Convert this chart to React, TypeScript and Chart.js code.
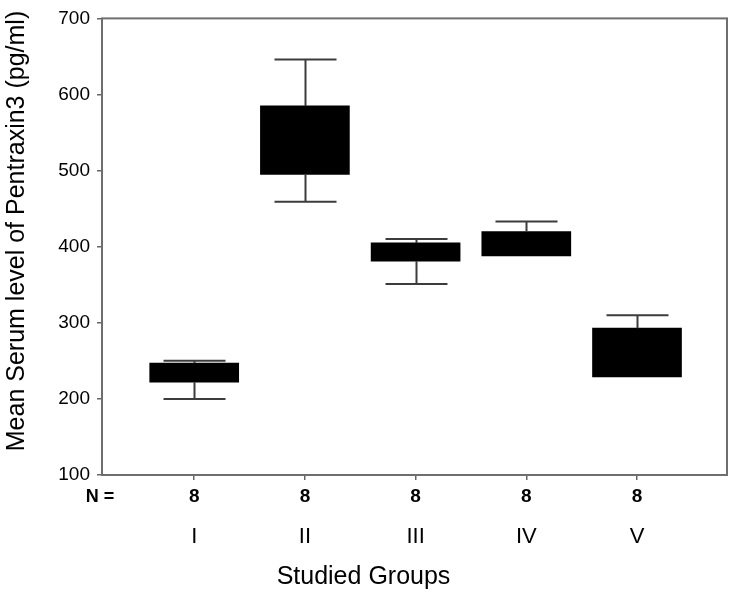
import React, { useEffect, useRef } from 'react';
import { Chart, registerables } from 'chart.js';

Chart.register(...registerables);

const categories = ['I', 'II', 'III', 'IV', 'V'];
const groupN = [8, 8, 8, 8, 8];
const whiskerLow = [200, 459, 351, 388, 229];
const q1 = [222, 495, 381, 388, 229];
const q3 = [247, 585, 405, 420, 293];
const whiskerHigh = [250, 646, 410, 433, 310];
const yMin = 100;
const yMax = 700;
const yStep = 100;
const yTitle = 'Mean Serum level of Pentraxin3 (pg/ml)';
const xTitle = 'Studied Groups';

export default function App() {
  const ref = useRef<HTMLCanvasElement>(null);

  useEffect(() => {
    document.body.style.margin = '0';
    const font = '"Liberation Sans", Arial, Helvetica, sans-serif';

    const boxExtras = {
      id: 'boxExtras',
      afterDatasetsDraw(chart: any) {
        const { ctx, chartArea: a, scales } = chart;
        const x = scales.x;
        const y = scales.y;
        ctx.save();
        // whiskers
        ctx.strokeStyle = '#3c3c3c';
        ctx.lineWidth = 2;
        const cap = 31;
        categories.forEach((_c, i) => {
          const px = Math.round(x.getPixelForValue(i + 1)) + 0.5;
          const hi = y.getPixelForValue(whiskerHigh[i]);
          const top = y.getPixelForValue(q3[i]);
          const bot = y.getPixelForValue(q1[i]);
          const lo = y.getPixelForValue(whiskerLow[i]);
          ctx.beginPath();
          ctx.moveTo(px, hi);
          ctx.lineTo(px, top);
          ctx.moveTo(px - cap, hi);
          ctx.lineTo(px + cap, hi);
          if (whiskerLow[i] < q1[i]) {
            ctx.moveTo(px, bot);
            ctx.lineTo(px, lo);
            ctx.moveTo(px - cap, lo);
            ctx.lineTo(px + cap, lo);
          }
          ctx.stroke();
        });
        // plot frame
        ctx.strokeStyle = '#6e6e6e';
        ctx.lineWidth = 2;
        ctx.strokeRect(a.left, a.top, a.right - a.left, a.bottom - a.top);
        // N row
        ctx.fillStyle = '#000';
        ctx.textAlign = 'center';
        ctx.textBaseline = 'middle';
        ctx.font = `bold 18px ${font}`;
        ctx.fillText('N =', a.left - 2, a.bottom + 22);
        ctx.font = `bold 19px ${font}`;
        groupN.forEach((n, i) => {
          ctx.fillText(String(n), x.getPixelForValue(i + 1), a.bottom + 22);
        });
        // y title
        ctx.font = `25px ${font}`;
        ctx.translate(17, 231);
        ctx.rotate(-Math.PI / 2);
        ctx.fillText(yTitle, 0, 0);
        ctx.restore();
      },
    };

    const chart = new Chart(ref.current as HTMLCanvasElement, {
      type: 'bar',
      data: {
        datasets: [
          {
            data: categories.map((_c, i) => ({ x: i + 1, y: [q1[i], q3[i]] })) as any,
            backgroundColor: '#000',
            borderWidth: 0,
            borderSkipped: false,
            barThickness: 89,
          },
        ],
      },
      options: {
        animation: false,
        responsive: false,
        devicePixelRatio: 1,
        layout: { padding: { top: 8, right: 3, left: 0, bottom: 0 } },
        plugins: {
          legend: { display: false },
          tooltip: { enabled: false },
          title: {
            display: true,
            text: xTitle,
            position: 'bottom',
            color: '#000',
            font: { family: font, size: 25, weight: 'normal' },
            padding: { top: 0, bottom: 1 },
          },
        },
        scales: {
          x: {
            type: 'linear',
            min: 0.167,
            max: 5.813,
            offset: false,
            border: { display: false },
            grid: { display: true, offset: false, drawOnChartArea: false, drawTicks: true, tickLength: 5, color: '#666', lineWidth: 1.5 },
            afterBuildTicks: (scale: any) => {
              scale.ticks = categories.map((_c, i) => ({ value: i + 1 }));
            },
            ticks: {
              padding: 44,
              color: '#000',
              font: { family: font, size: 22 },
              maxRotation: 0,
              autoSkip: false,
              callback: (v: any) => categories[Math.round(Number(v)) - 1] ?? '',
            },
            afterFit: (scale: any) => {
              scale.height = 87;
            },
          },
          y: {
            min: yMin,
            max: yMax,
            border: { display: false },
            grid: { display: true, offset: false, drawOnChartArea: false, drawTicks: true, tickLength: 5, color: '#666', lineWidth: 1.5 },
            ticks: {
              stepSize: yStep,
              padding: 7,
              color: '#000',
              font: { family: font, size: 19 },
            },
            afterFit: (scale: any) => {
              scale.width = 102;
            },
          },
        },
      },
      plugins: [boxExtras],
    });
    return () => chart.destroy();
  }, []);

  return (
    <div style={{ width: 730, height: 593 }}>
      <canvas ref={ref} width={730} height={593} />
    </div>
  );
}
